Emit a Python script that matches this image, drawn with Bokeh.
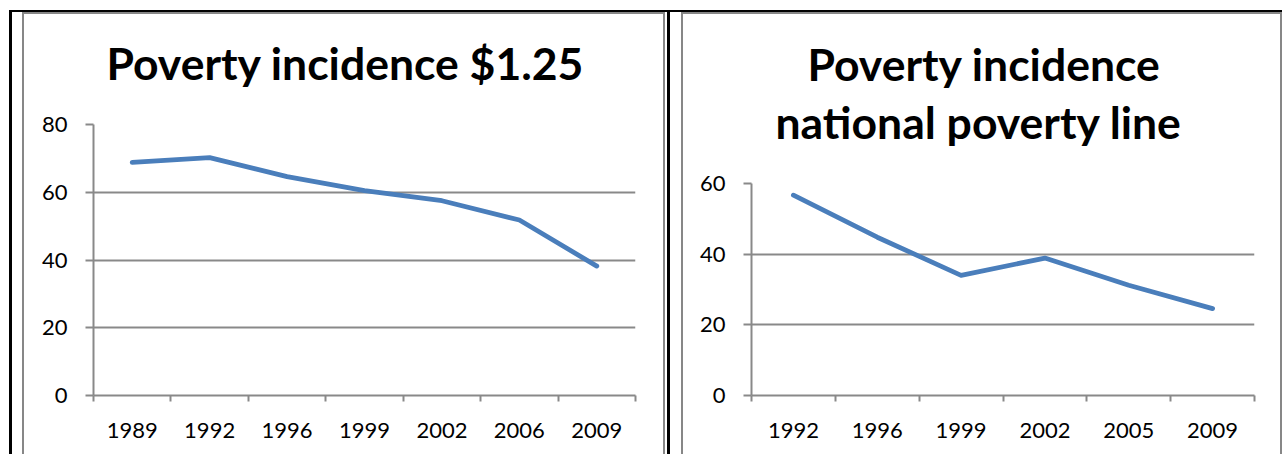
from bokeh.plotting import figure
from bokeh.models import Range1d, FixedTicker, Title, Spacer, Row, Column
from bokeh.embed import file_html
from bokeh.resources import INLINE

# ---- data ----
years_125 = [1989, 1992, 1996, 1999, 2002, 2006, 2009]
poverty_125 = [68.8, 70.2, 64.6, 60.5, 57.5, 51.8, 38.2]

years_nat = [1992, 1996, 1999, 2002, 2005, 2009]
poverty_nat = [56.7, 44.8, 34.0, 38.9, 31.2, 24.6]

title_125 = ["Poverty incidence $1.25"]
title_nat = ["Poverty incidence", "national poverty line"]

GRID = "#898989"
LINE = "#4A7EBB"
FONT = "Lato"


def make_panel(years, vals, ymax, titles, width, height, mb_left, mb_right, mb_top, mb_bottom,
               gap, offsets, standoffs):
    n = len(years)
    p = figure(width=width, height=height, x_range=Range1d(0, n), y_range=Range1d(0, ymax),
               output_backend="svg", toolbar_location=None,
               min_border_left=mb_left, min_border_right=mb_right,
               min_border_top=mb_top, min_border_bottom=mb_bottom)
    p.outline_line_color = None
    p.background_fill_color = "white"
    p.border_fill_color = "white"

    xs = [i + 0.5 for i in range(n)]
    p.line(xs, vals, line_color=LINE, line_width=4.8, line_cap="round", line_join="round")

    # x axis: labels at category centres, ticks at category boundaries
    xa = p.xaxis[0]
    xa.ticker = FixedTicker(ticks=xs, minor_ticks=list(range(n + 1)))
    xa.major_label_overrides = {x: str(y) for x, y in zip(xs, years)}
    xa.major_tick_line_color = None
    xa.major_tick_out = 0
    xa.major_tick_in = 0
    xa.minor_tick_line_color = GRID
    xa.minor_tick_line_width = 2
    xa.minor_tick_out = 6
    xa.minor_tick_in = 0
    xa.axis_line_color = GRID
    xa.axis_line_width = 2
    xa.major_label_standoff = 21
    xa.major_label_text_font = FONT
    xa.major_label_text_font_size = "22px"
    xa.major_label_text_color = "black"

    ya = p.yaxis[0]
    ya.ticker = FixedTicker(ticks=list(range(0, ymax + 1, 20)))
    ya.minor_tick_line_color = None
    ya.major_tick_line_color = GRID
    ya.major_tick_line_width = 2
    ya.major_tick_out = 8
    ya.major_tick_in = 0
    ya.axis_line_color = GRID
    ya.axis_line_width = 2
    ya.major_label_standoff = 18
    ya.major_label_text_font = FONT
    ya.major_label_text_font_size = "22px"
    ya.major_label_text_color = "black"

    p.xgrid.visible = False
    p.ygrid.grid_line_color = GRID
    p.ygrid.grid_line_width = 2

    # blank gap between the frame and the title
    p.add_layout(Title(text=" ", text_font_size="10px", standoff=gap, text_color="white"), "above")

    # titles: added from the frame outward
    for t, off, so in zip(reversed(titles), offsets, standoffs):
        p.add_layout(Title(text=t, align="left", offset=off, standoff=so,
                           text_font=FONT, text_font_style="bold",
                           text_font_size="44.5px", text_color="black"), "above")
    return p


FIG_H = 440
p1 = make_panel(years_125, poverty_125, 80, title_125, 639, FIG_H, 69, 28, 110, 59,
                23, [13], [0])
p2 = make_panel(years_nat, poverty_nat, 60, title_nat, 597, FIG_H, 68, 26, 169, 59,
                23, [24, 56], [0, 6])


def box(w, h, color=None):
    st = {"background-color": color} if color else {}
    return Spacer(width=w, height=h, styles=st)


GREY = "#878787"
CH = FIG_H + 2
cell1 = Column(children=[box(643, 2, GREY),
                         Row(children=[box(2, FIG_H, GREY), p1, box(2, FIG_H, GREY)], spacing=0)],
               spacing=0)
cell2 = Column(children=[box(601, 2, GREY),
                         Row(children=[box(2, FIG_H, GREY), p2, box(2, FIG_H, GREY)], spacing=0)],
               spacing=0)

body = Row(children=[box(9, CH), box(3, CH, "black"), box(10, CH), cell1, box(2, CH),
                     box(3, CH, "black"), box(11, CH), cell2], spacing=0)
top_line = Row(children=[box(9, 2), box(1273, 2, "black")], spacing=0)
layout = Column(children=[box(1282, 10), top_line, body], spacing=0)

open("out.html", "w").write(file_html(layout, INLINE))
